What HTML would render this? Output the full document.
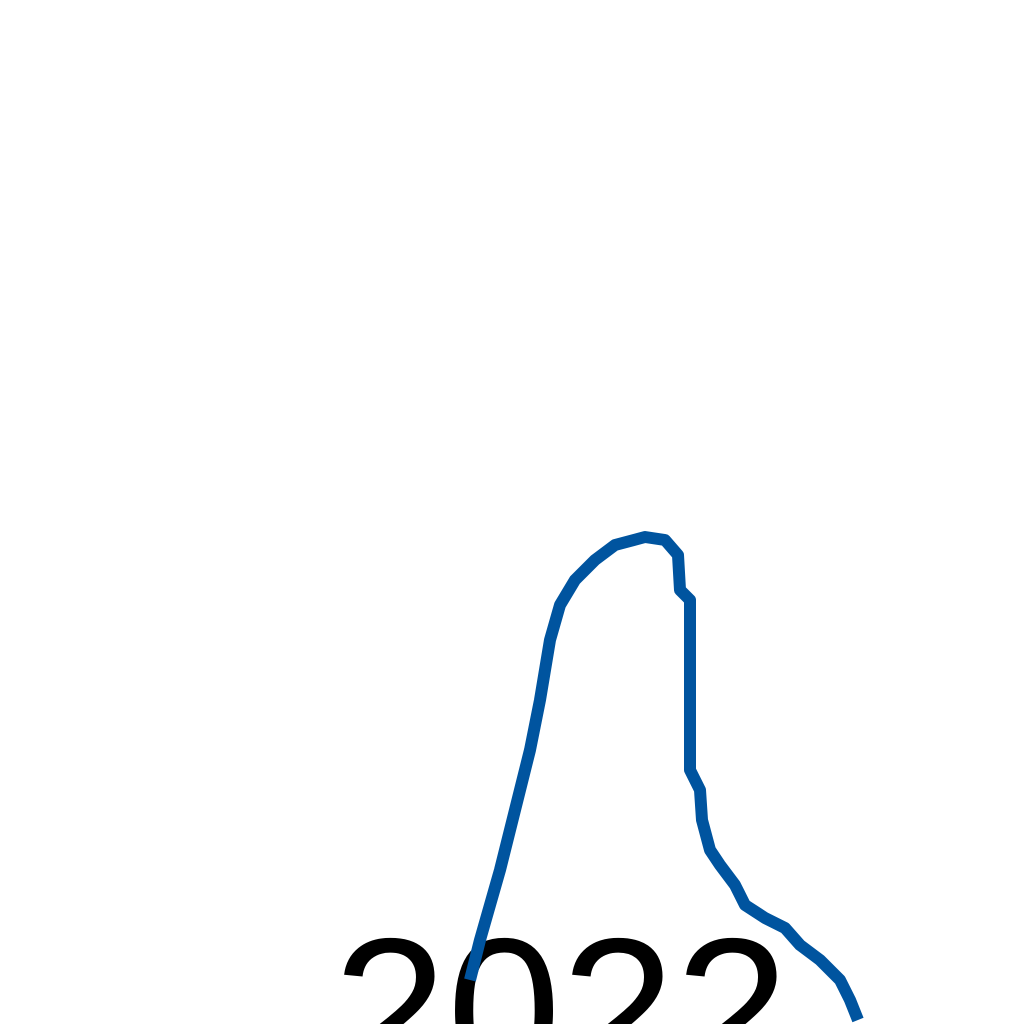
<!DOCTYPE html>
<html>
<head>
<meta charset="utf-8">
<style>
  html,body{margin:0;padding:0;background:#fff;width:1024px;height:1024px;overflow:hidden;}
  svg{display:block;overflow:hidden;}
</style>
</head>
<body>
<svg id="chart" width="1024" height="1024" viewBox="0 0 1024 1024" xmlns="http://www.w3.org/2000/svg">
  <rect x="0" y="0" width="1024" height="1024" fill="#ffffff"/>
  <text x="333" y="1081" font-family="Liberation Sans, sans-serif" font-size="205" fill="#000">2022</text>
  <g id="series"></g>
</svg>
<script>
const xVals = [47, 48, 49, 50, 51, 52, 53, 54, 55, 56, 57.5, 59.5, 61.5, 64.5, 66.5, 67.8, 68, 69, 69, 70, 70.2, 71, 72, 73.5, 74.5, 76.5, 78.5, 80, 82, 84, 85, 85.8];
const yVals = [4.4, 8.4, 11.9, 15.4, 19.4, 23.4, 27.4, 32.4, 38.4, 41.9, 44.4, 46.4, 47.9, 48.7, 48.4, 46.9, 43.4, 42.4, 25.4, 23.4, 20.4, 17.4, 15.9, 13.9, 11.9, 10.6, 9.6, 7.9, 6.4, 4.4, 2.4, 0.4];

function xScale(v){ return v * 10; }
function yScale(v){ return 1024 - v * 10; }

const g = document.getElementById('series');
let d = '';
for (let i = 0; i < xVals.length; i++) {
  d += (i === 0 ? 'M' : 'L') + xScale(xVals[i]) + ',' + yScale(yVals[i]) + ' ';
}
const path = document.createElementNS('http://www.w3.org/2000/svg', 'path');
path.setAttribute('d', d);
path.setAttribute('fill', 'none');
path.setAttribute('stroke', '#00549f');
path.setAttribute('stroke-width', '12');
path.setAttribute('stroke-linejoin', 'round');


g.appendChild(path);
</script>
</body>
</html>
